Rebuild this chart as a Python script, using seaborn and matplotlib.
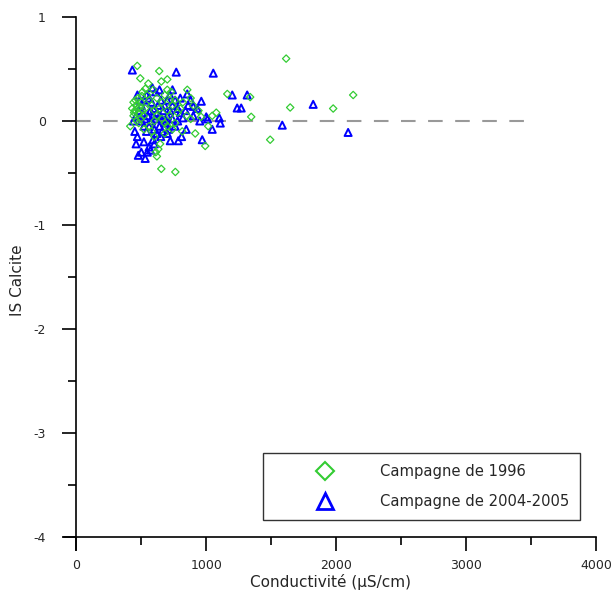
import matplotlib
matplotlib.use("Agg")
import matplotlib.pyplot as plt
from matplotlib.lines import Line2D
from matplotlib.ticker import MultipleLocator
import seaborn as sns
import pandas as pd

# Campagne de 1996 (green diamonds)
x_1996 = [469, 492, 531, 554, 638, 654, 700, 854, 1162, 1338, 1615, 1646, 1977, 2131, 1492,
          1346, 1046, 1077, 992, 915, 1015, 815, 654, 762, 631, 620, 612, 645, 415, 440,
          450, 460, 470, 480, 490, 500, 455, 475, 510, 520, 495, 465, 530, 545, 560,
          580, 600, 620, 640, 660, 680, 700, 720, 740, 760, 780, 800, 850, 880, 900,
          940, 960, 560, 580, 600, 700, 740, 680, 520, 440, 430, 445, 505, 590, 620,
          660, 700, 720, 760, 820, 880, 600, 480, 510, 730, 680]
y_1996 = [0.53, 0.41, 0.31, 0.36, 0.48, 0.38, 0.40, 0.30, 0.26, 0.23, 0.60, 0.13, 0.12, 0.25, -0.18,
          0.04, 0.05, 0.08, -0.24, -0.12, -0.05, -0.10, -0.46, -0.49, -0.27, -0.34, -0.30, -0.22, -0.05, 0.05,
          0.10, 0.15, 0.12, 0.08, 0.14, 0.18, 0.20, 0.22, 0.10, 0.05, 0.02, 0.00, 0.12, 0.25, 0.20,
          0.15, 0.10, 0.05, 0.12, 0.18, 0.25, 0.10, 0.05, 0.15, 0.20, 0.08, 0.12, 0.05, 0.02, 0.15,
          0.10, 0.04, -0.05, -0.10, -0.15, -0.05, -0.08, -0.12, -0.08, 0.18, 0.12, 0.08, 0.24, 0.30, 0.22,
          0.02, 0.30, 0.20, -0.02, 0.18, 0.22, 0.00, -0.02, 0.28, 0.28, -0.02]

# Campagne de 2004-2005 (blue triangles)
x_2004 = [431, 769, 585, 1054, 1200, 1238, 1315, 1269, 1823, 1585, 2092, 1108, 1046, 969, 846,
          962, 854, 880, 900, 930, 1000, 1100, 785, 723, 546, 500, 477, 530, 560, 600,
          520, 470, 450, 440, 460, 480, 500, 520, 540, 560, 580, 600, 620, 640, 660,
          680, 700, 720, 740, 760, 780, 800, 820, 840, 860, 500, 520, 540, 560, 580,
          600, 620, 640, 660, 680, 700, 720, 740, 760, 780, 550, 570, 590, 610, 630,
          650, 670, 690, 710, 490, 510, 530, 650, 590, 570, 610, 640, 460, 470, 700,
          810, 900, 950, 1010, 740, 800]
y_2004 = [0.49, 0.47, 0.32, 0.46, 0.25, 0.125, 0.25, 0.125, 0.16, -0.04, -0.11, -0.02, -0.08, -0.18, -0.08,
          0.19, 0.26, 0.20, 0.14, 0.12, 0.04, 0.03, -0.19, -0.19, -0.30, -0.30, -0.33, -0.36, -0.25, -0.22,
          -0.20, -0.15, -0.10, 0.00, 0.05, 0.10, 0.15, 0.20, 0.25, 0.22, 0.18, 0.12, 0.08, 0.05, 0.02,
          -0.02, 0.05, 0.10, 0.15, 0.20, 0.12, 0.08, 0.03, 0.10, 0.15, 0.00, -0.05, -0.10, -0.05, 0.00,
          -0.08, -0.12, -0.05, -0.10, 0.15, 0.20, 0.25, 0.02, -0.05, 0.00, 0.05, 0.10, 0.05, 0.02, 0.15,
          0.20, 0.10, 0.00, -0.08, 0.20, 0.08, 0.02, -0.15, -0.18, -0.28, 0.28, 0.30, -0.22, 0.25, -0.12,
          -0.15, 0.05, 0.00, 0.02, 0.30, 0.22]

labels = ["Campagne de 1996", "Campagne de 2004-2005"]
green = "#33cc33"
blue = "#0000ff"

df96 = pd.DataFrame({"x": x_1996, "y": y_1996})
df04 = pd.DataFrame({"x": x_2004, "y": y_2004})

sns.set_style("white")
plt.rcParams["font.family"] = ["DejaVu Sans"]

fig = plt.figure(figsize=(6.13, 6.01), dpi=100)
ax = fig.add_axes([64 / 613, 1 - 550 / 601, 532 / 613, 533 / 601])

ax.hlines(0, 0, 3500, colors="#999999", linestyles=(0, (7, 6)), linewidth=1.5, zorder=1)

sns.scatterplot(data=df96, x="x", y="y", marker="D", s=14, facecolor="none",
                edgecolor=green, linewidth=0.9, ax=ax, zorder=3, legend=False)
sns.scatterplot(data=df04, x="x", y="y", marker="^", s=26, facecolor="none",
                edgecolor=blue, linewidth=1.4, ax=ax, zorder=2, legend=False)

ax.set_xlim(-95, 4000)
ax.set_ylim(-4.125, 1)
for s in ["top", "right"]:
    ax.spines[s].set_visible(False)
ax.spines["left"].set_position(("data", 0))
ax.spines["bottom"].set_position(("data", -4))
for s in ["left", "bottom"]:
    ax.spines[s].set_color("black")
    ax.spines[s].set_linewidth(1.2)

ax.xaxis.set_major_locator(MultipleLocator(1000))
ax.xaxis.set_minor_locator(MultipleLocator(500))
ax.yaxis.set_major_locator(MultipleLocator(1))
ax.yaxis.set_minor_locator(MultipleLocator(0.5))
ax.tick_params(axis="both", which="major", direction="out", length=10, width=1.2,
               color="black", labelsize=9, bottom=True, left=True)
ax.tick_params(axis="both", which="minor", direction="out", length=5.5, width=1.2,
               color="black", bottom=True, left=True)
ax.tick_params(axis="y", which="major", pad=12)
ax.tick_params(axis="x", which="major", pad=6)
ax.set_xticks([0, 1000, 2000, 3000, 4000])
ax.set_xticklabels(["0", "1000", "2000", "3000", "4000"])
ax.set_yticks([-4, -3, -2, -1, 0, 1])
ax.set_yticklabels(["-4", "-3", "-2", "-1", "0", "1"])

ax.set_xlabel("Conductivité (µS/cm)", fontsize=11, labelpad=1)
ax.set_ylabel("IS Calcite", fontsize=11)
ax.yaxis.set_label_coords(25 / 613, 1 - 280 / 601, transform=fig.transFigure)

handles = [
    Line2D([], [], linestyle="none", marker="D", markersize=9, markerfacecolor="none",
           markeredgecolor=green, markeredgewidth=1.5),
    Line2D([], [], linestyle="none", marker="^", markersize=11, markerfacecolor="none",
           markeredgecolor=blue, markeredgewidth=2),
]
leg = fig.legend(handles, labels, loc="upper left",
                 bbox_to_anchor=(263 / 613, 1 - 453 / 601), frameon=True, fancybox=False,
                 fontsize=10.6, handlelength=6.95, handletextpad=0.25, labelspacing=1.0,
                 borderpad=0.75, borderaxespad=0)
leg.get_frame().set_edgecolor("black")
leg.get_frame().set_linewidth(1.0)

fig.savefig("out.png", dpi=100)
